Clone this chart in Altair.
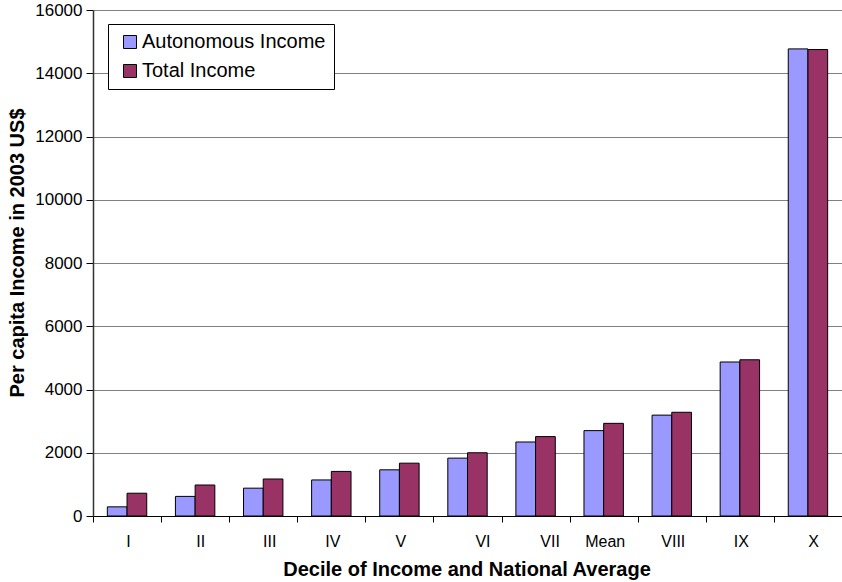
import altair as alt
import pandas as pd

# Per capita income by decile, in 2003 US$
deciles = ["I", "II", "III", "IV", "V", "VI", "VII", "Mean", "VIII", "IX", "X"]
autonomous = [290, 620, 880, 1140, 1460, 1830, 2340, 2700, 3190, 4870, 14770]
total = [720, 980, 1170, 1410, 1670, 2000, 2510, 2930, 3280, 4940, 14750]
series = ["Autonomous Income", "Total Income"]
colors = ["#9999FF", "#993366"]

rows = []
for d, a, t in zip(deciles, autonomous, total):
    rows.append({"decile": d, "series": series[0], "income": a})
    rows.append({"decile": d, "series": series[1], "income": t})
df = pd.DataFrame(rows)

FONT = "Liberation Sans"

# small horizontal nudges of some category labels
label_shift = (
    "datum.value == 'II' ? 5 : datum.value == 'III' ? 6 : "
    "datum.value == 'VI' ? 15 : datum.value == 'VII' ? 14 : "
    "datum.value == 'X' ? 5 : 1"
)

chart = (
    alt.Chart(df)
    .mark_bar(stroke="black", strokeWidth=1)
    .encode(
        x=alt.X(
            "decile:N",
            sort=deciles,
            scale=alt.Scale(paddingInner=0, paddingOuter=0),
            axis=alt.Axis(
                title="Decile of Income and National Average",
                labelAngle=0,
                tickBand="extent",
                tickSize=6,
                tickColor="black",
                domainColor="black",
                labelPadding=11,
                labelFontSize=16,
                labelFont=FONT,
                labelColor="black",
                labelOffset=alt.ExprRef(label_shift),
                titleFont=FONT,
                titleFontSize=20,
                titleFontWeight="bold",
                titleColor="black",
                titleX=373.5,
                titleY=53,
                titleBaseline="middle",
                titleAlign="center",
            ),
        ),
        xOffset=alt.XOffset(
            "series:N",
            sort=series,
            scale=alt.Scale(paddingInner=0, paddingOuter=0.728),
        ),
        y=alt.Y(
            "income:Q",
            scale=alt.Scale(domain=[0, 16000], nice=False),
            axis=alt.Axis(
                title="Per capita Income in 2003 US$",
                values=list(range(0, 16001, 2000)),
                format="d",
                tickSize=7,
                tickColor="black",
                domainColor="#333333",
                domainWidth=1.5,
                gridColor="#808080",
                gridWidth=1,
                labelPadding=4,
                labelFontSize=17,
                labelFont=FONT,
                labelColor="black",
                titleFont=FONT,
                titleFontSize=20,
                titleFontWeight="bold",
                titleColor="black",
                titleX=-76,
                titleY=242.5,
                titleAngle=-90,
                titleBaseline="middle",
                titleAlign="center",
            ),
        ),
        color=alt.Color(
            "series:N",
            sort=series,
            scale=alt.Scale(domain=series, range=colors),
            legend=alt.Legend(
                title=None,
                orient="none",
                legendX=15,
                legendY=14,
                symbolType="square",
                symbolSize=169,
                symbolStrokeColor="black",
                symbolStrokeWidth=1,
                symbolOffset=4,
                labelFont=FONT,
                labelFontSize=20,
                labelColor="black",
                labelLimit=0,
                rowPadding=9,
                padding=8,
                strokeColor="black",
                fillColor="white",
                labelOffset=2,
            ),
        ),
    )
    .properties(
        width=749,
        height=506,
        autosize=alt.AutoSizeParams(type="none"),
        padding={"left": 93, "top": 10, "right": 0, "bottom": 66},
    )
    .configure_view(stroke="black", strokeWidth=1)
    .configure(background="white")
)

chart.save("out.html", embed_options={"renderer": "svg", "actions": False})
